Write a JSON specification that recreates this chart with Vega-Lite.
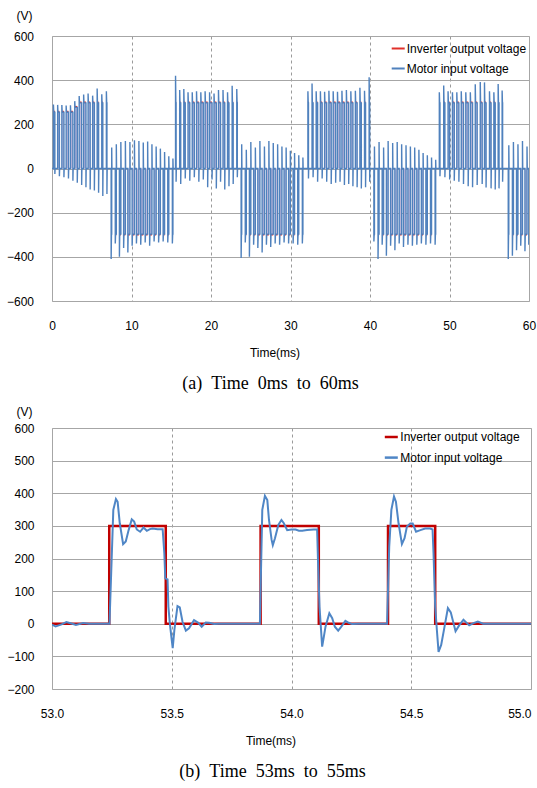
{
"$schema": "https://vega.github.io/schema/vega-lite/v6.json",
"padding": {"left": 5, "top": 8, "right": 1, "bottom": 5},
"spacing": 11,
"background": "white",
"config": {
 "font": "Liberation Sans",
 "view": {"stroke": "#a6a6a6", "strokeWidth": 1},
 "axis": {"labelFont": "Liberation Sans", "labelFontSize": 12, "labelColor": "#000", "titleFont": "Liberation Sans", "titleFontSize": 12, "titleFontWeight": "normal", "titleColor": "#000", "ticks": false, "tickSize": 0, "domain": false, "gridColor": "#a6a6a6", "gridWidth": 1, "labelOverlap": false, "labelFlush": false, "labelBound": false},
 "title": {"font": "Liberation Serif", "fontSize": 18, "fontWeight": "normal", "color": "#000"}
},
"resolve": {"scale": {"x": "independent", "y": "independent", "color": "independent"}, "legend": {"color": "independent"}},
"datasets": {
 "pulses": [
  {"a":0.18,"b":0.36,"v":258},{"a":0.71,"b":0.93,"v":258},{"a":1.24,"b":1.50,"v":258},{"a":1.78,"b":2.07,"v":258},{"a":2.32,"b":2.63,"v":258},{"a":2.86,"b":3.18,"v":280},{"a":3.42,"b":3.73,"v":300},{"a":3.98,"b":4.27,"v":300},{"a":4.54,"b":4.80,"v":300},{"a":5.11,"b":5.33,"v":300},{"a":5.68,"b":5.86,"v":300},{"a":6.26,"b":6.39,"v":300},{"a":6.84,"b":6.91,"v":300},
  {"a":7.44,"b":7.51,"v":-300},{"a":7.96,"b":8.09,"v":-300},{"a":8.48,"b":8.66,"v":-300},{"a":9.01,"b":9.23,"v":-300},{"a":9.54,"b":9.80,"v":-300},{"a":10.08,"b":10.37,"v":-300},{"a":10.62,"b":10.93,"v":-300},{"a":11.16,"b":11.48,"v":-300},{"a":11.72,"b":12.03,"v":-300},{"a":12.28,"b":12.57,"v":-300},{"a":12.84,"b":13.10,"v":-300},{"a":13.41,"b":13.63,"v":-300},{"a":13.98,"b":14.16,"v":-300},{"a":14.56,"b":14.69,"v":-300},{"a":15.14,"b":15.21,"v":-300},
  {"a":15.54,"b":15.61,"v":300},{"a":16.06,"b":16.19,"v":300},{"a":16.58,"b":16.76,"v":300},{"a":17.11,"b":17.33,"v":300},{"a":17.64,"b":17.90,"v":300},{"a":18.18,"b":18.47,"v":300},{"a":18.72,"b":19.03,"v":300},{"a":19.26,"b":19.58,"v":300},{"a":19.82,"b":20.13,"v":300},{"a":20.38,"b":20.67,"v":300},{"a":20.94,"b":21.20,"v":300},{"a":21.51,"b":21.73,"v":300},{"a":22.08,"b":22.26,"v":300},{"a":22.66,"b":22.79,"v":300},{"a":23.24,"b":23.31,"v":300},
  {"a":23.79,"b":23.86,"v":-300},{"a":24.31,"b":24.44,"v":-300},{"a":24.83,"b":25.01,"v":-300},{"a":25.36,"b":25.58,"v":-300},{"a":25.89,"b":26.15,"v":-300},{"a":26.43,"b":26.72,"v":-300},{"a":26.97,"b":27.28,"v":-300},{"a":27.51,"b":27.83,"v":-300},{"a":28.07,"b":28.38,"v":-300},{"a":28.63,"b":28.92,"v":-300},{"a":29.19,"b":29.45,"v":-300},{"a":29.76,"b":29.98,"v":-300},{"a":30.33,"b":30.51,"v":-300},{"a":30.91,"b":31.04,"v":-300},{"a":31.49,"b":31.56,"v":-300},
  {"a":32.19,"b":32.26,"v":300},{"a":32.71,"b":32.84,"v":300},{"a":33.23,"b":33.41,"v":300},{"a":33.76,"b":33.98,"v":300},{"a":34.29,"b":34.55,"v":300},{"a":34.83,"b":35.12,"v":300},{"a":35.37,"b":35.68,"v":300},{"a":35.91,"b":36.23,"v":300},{"a":36.47,"b":36.78,"v":300},{"a":37.03,"b":37.32,"v":300},{"a":37.59,"b":37.85,"v":300},{"a":38.16,"b":38.38,"v":300},{"a":38.73,"b":38.91,"v":300},{"a":39.31,"b":39.44,"v":300},{"a":39.89,"b":39.96,"v":300},
  {"a":40.49,"b":40.56,"v":-300},{"a":41.01,"b":41.14,"v":-300},{"a":41.53,"b":41.71,"v":-300},{"a":42.06,"b":42.28,"v":-300},{"a":42.59,"b":42.85,"v":-300},{"a":43.13,"b":43.42,"v":-300},{"a":43.67,"b":43.98,"v":-300},{"a":44.21,"b":44.53,"v":-300},{"a":44.77,"b":45.08,"v":-300},{"a":45.33,"b":45.62,"v":-300},{"a":45.89,"b":46.15,"v":-300},{"a":46.46,"b":46.68,"v":-300},{"a":47.03,"b":47.21,"v":-300},{"a":47.61,"b":47.74,"v":-300},{"a":48.19,"b":48.26,"v":-300},
  {"a":48.72,"b":48.80,"v":300},{"a":49.27,"b":49.42,"v":300},{"a":49.82,"b":50.02,"v":300},{"a":50.37,"b":50.60,"v":300},{"a":50.92,"b":51.18,"v":300},{"a":51.48,"b":51.76,"v":300},{"a":52.05,"b":52.35,"v":300},{"a":52.62,"b":52.90,"v":300},{"a":53.24,"b":53.48,"v":300},{"a":53.87,"b":54.11,"v":300},{"a":54.40,"b":54.60,"v":300},{"a":55.03,"b":55.23,"v":300},{"a":55.58,"b":55.75,"v":300},{"a":56.12,"b":56.23,"v":300},{"a":56.62,"b":56.68,"v":300},
  {"a":57.39,"b":57.46,"v":-300},{"a":57.91,"b":58.04,"v":-300},{"a":58.43,"b":58.61,"v":-300},{"a":58.96,"b":59.18,"v":-300},{"a":59.49,"b":59.75,"v":-300},{"a":59.97,"b":60,"v":-300}
 ],
 "motorA": [
  {"t":0,"v":0},
  {"t":0.18,"v":0},{"t":0.18,"v":290},{"t":0.22,"v":255},{"t":0.36,"v":255},{"t":0.36,"v":-25},{"t":0.39,"v":0},
  {"t":0.71,"v":0},{"t":0.71,"v":288},{"t":0.75,"v":255},{"t":0.93,"v":255},{"t":0.93,"v":-35},{"t":0.96,"v":0},
  {"t":1.24,"v":0},{"t":1.24,"v":287},{"t":1.28,"v":255},{"t":1.50,"v":255},{"t":1.50,"v":-40},{"t":1.53,"v":0},
  {"t":1.78,"v":0},{"t":1.78,"v":285},{"t":1.82,"v":255},{"t":2.07,"v":255},{"t":2.07,"v":-45},{"t":2.10,"v":0},
  {"t":2.32,"v":0},{"t":2.32,"v":286},{"t":2.36,"v":255},{"t":2.63,"v":255},{"t":2.63,"v":-55},{"t":2.66,"v":0},
  {"t":2.86,"v":0},{"t":2.86,"v":305},{"t":2.90,"v":277},{"t":3.18,"v":277},{"t":3.18,"v":-65},{"t":3.21,"v":0},
  {"t":3.42,"v":0},{"t":3.42,"v":328},{"t":3.46,"v":297},{"t":3.73,"v":297},{"t":3.73,"v":-75},{"t":3.76,"v":0},
  {"t":3.98,"v":0},{"t":3.98,"v":335},{"t":4.02,"v":297},{"t":4.27,"v":297},{"t":4.27,"v":-85},{"t":4.30,"v":0},
  {"t":4.54,"v":0},{"t":4.54,"v":340},{"t":4.58,"v":297},{"t":4.80,"v":297},{"t":4.80,"v":-95},{"t":4.83,"v":0},
  {"t":5.11,"v":0},{"t":5.11,"v":330},{"t":5.15,"v":297},{"t":5.33,"v":297},{"t":5.33,"v":-100},{"t":5.36,"v":0},
  {"t":5.68,"v":0},{"t":5.68,"v":362},{"t":5.72,"v":297},{"t":5.86,"v":297},{"t":5.86,"v":-110},{"t":5.89,"v":0},
  {"t":6.26,"v":0},{"t":6.26,"v":336},{"t":6.30,"v":297},{"t":6.39,"v":297},{"t":6.39,"v":-125},{"t":6.42,"v":0},
  {"t":6.84,"v":0},{"t":6.84,"v":350},{"t":6.88,"v":297},{"t":6.91,"v":297},{"t":6.91,"v":-115},{"t":6.94,"v":0},
  {"t":7.44,"v":0},{"t":7.44,"v":-410},{"t":7.48,"v":-297},{"t":7.51,"v":-297},{"t":7.51,"v":95},{"t":7.54,"v":0},
  {"t":7.96,"v":0},{"t":7.96,"v":-340},{"t":8.00,"v":-297},{"t":8.09,"v":-297},{"t":8.09,"v":110},{"t":8.12,"v":0},
  {"t":8.48,"v":0},{"t":8.48,"v":-400},{"t":8.52,"v":-297},{"t":8.66,"v":-297},{"t":8.66,"v":120},{"t":8.69,"v":0},
  {"t":9.01,"v":0},{"t":9.01,"v":-360},{"t":9.05,"v":-297},{"t":9.23,"v":-297},{"t":9.23,"v":125},{"t":9.26,"v":0},
  {"t":9.54,"v":0},{"t":9.54,"v":-380},{"t":9.58,"v":-297},{"t":9.80,"v":-297},{"t":9.80,"v":120},{"t":9.83,"v":0},
  {"t":10.08,"v":0},{"t":10.08,"v":-350},{"t":10.12,"v":-297},{"t":10.37,"v":-297},{"t":10.37,"v":128},{"t":10.40,"v":0},
  {"t":10.62,"v":0},{"t":10.62,"v":-340},{"t":10.66,"v":-297},{"t":10.93,"v":-297},{"t":10.93,"v":125},{"t":10.96,"v":0},
  {"t":11.16,"v":0},{"t":11.16,"v":-345},{"t":11.20,"v":-297},{"t":11.48,"v":-297},{"t":11.48,"v":118},{"t":11.51,"v":0},
  {"t":11.72,"v":0},{"t":11.72,"v":-335},{"t":11.76,"v":-297},{"t":12.03,"v":-297},{"t":12.03,"v":122},{"t":12.06,"v":0},
  {"t":12.28,"v":0},{"t":12.28,"v":-350},{"t":12.32,"v":-297},{"t":12.57,"v":-297},{"t":12.57,"v":110},{"t":12.60,"v":0},
  {"t":12.84,"v":0},{"t":12.84,"v":-330},{"t":12.88,"v":-297},{"t":13.10,"v":-297},{"t":13.10,"v":100},{"t":13.13,"v":0},
  {"t":13.41,"v":0},{"t":13.41,"v":-335},{"t":13.45,"v":-297},{"t":13.63,"v":-297},{"t":13.63,"v":90},{"t":13.66,"v":0},
  {"t":13.98,"v":0},{"t":13.98,"v":-330},{"t":14.02,"v":-297},{"t":14.16,"v":-297},{"t":14.16,"v":75},{"t":14.19,"v":0},
  {"t":14.56,"v":0},{"t":14.56,"v":-335},{"t":14.60,"v":-297},{"t":14.69,"v":-297},{"t":14.69,"v":55},{"t":14.72,"v":0},
  {"t":15.14,"v":0},{"t":15.14,"v":-340},{"t":15.18,"v":-297},{"t":15.21,"v":-297},{"t":15.21,"v":45},{"t":15.24,"v":0},
  {"t":15.54,"v":0},{"t":15.54,"v":420},{"t":15.58,"v":297},{"t":15.61,"v":297},{"t":15.61,"v":-60},{"t":15.64,"v":0},
  {"t":16.06,"v":0},{"t":16.06,"v":355},{"t":16.10,"v":297},{"t":16.19,"v":297},{"t":16.19,"v":-70},{"t":16.22,"v":0},
  {"t":16.58,"v":0},{"t":16.58,"v":360},{"t":16.62,"v":297},{"t":16.76,"v":297},{"t":16.76,"v":-45},{"t":16.79,"v":0},
  {"t":17.11,"v":0},{"t":17.11,"v":345},{"t":17.15,"v":297},{"t":17.33,"v":297},{"t":17.33,"v":-55},{"t":17.36,"v":0},
  {"t":17.64,"v":0},{"t":17.64,"v":345},{"t":17.68,"v":297},{"t":17.90,"v":297},{"t":17.90,"v":-40},{"t":17.93,"v":0},
  {"t":18.18,"v":0},{"t":18.18,"v":350},{"t":18.22,"v":297},{"t":18.47,"v":297},{"t":18.47,"v":-60},{"t":18.50,"v":0},
  {"t":18.72,"v":0},{"t":18.72,"v":345},{"t":18.76,"v":297},{"t":19.03,"v":297},{"t":19.03,"v":-50},{"t":19.06,"v":0},
  {"t":19.26,"v":0},{"t":19.26,"v":350},{"t":19.30,"v":297},{"t":19.58,"v":297},{"t":19.58,"v":-85},{"t":19.61,"v":0},
  {"t":19.82,"v":0},{"t":19.82,"v":345},{"t":19.86,"v":297},{"t":20.13,"v":297},{"t":20.13,"v":-50},{"t":20.16,"v":0},
  {"t":20.38,"v":0},{"t":20.38,"v":340},{"t":20.42,"v":297},{"t":20.67,"v":297},{"t":20.67,"v":-90},{"t":20.70,"v":0},
  {"t":20.94,"v":0},{"t":20.94,"v":355},{"t":20.98,"v":297},{"t":21.20,"v":297},{"t":21.20,"v":-60},{"t":21.23,"v":0},
  {"t":21.51,"v":0},{"t":21.51,"v":355},{"t":21.55,"v":297},{"t":21.73,"v":297},{"t":21.73,"v":-95},{"t":21.76,"v":0},
  {"t":22.08,"v":0},{"t":22.08,"v":345},{"t":22.12,"v":297},{"t":22.26,"v":297},{"t":22.26,"v":-80},{"t":22.29,"v":0},
  {"t":22.66,"v":0},{"t":22.66,"v":375},{"t":22.70,"v":297},{"t":22.79,"v":297},{"t":22.79,"v":-70},{"t":22.82,"v":0},
  {"t":23.24,"v":0},{"t":23.24,"v":360},{"t":23.28,"v":297},{"t":23.31,"v":297},{"t":23.31,"v":-40},{"t":23.34,"v":0},
  {"t":23.79,"v":0},{"t":23.79,"v":-405},{"t":23.83,"v":-297},{"t":23.86,"v":-297},{"t":23.86,"v":110},{"t":23.89,"v":0},
  {"t":24.31,"v":0},{"t":24.31,"v":-335},{"t":24.35,"v":-297},{"t":24.44,"v":-297},{"t":24.44,"v":85},{"t":24.47,"v":0},
  {"t":24.83,"v":0},{"t":24.83,"v":-400},{"t":24.87,"v":-297},{"t":25.01,"v":-297},{"t":25.01,"v":120},{"t":25.04,"v":0},
  {"t":25.36,"v":0},{"t":25.36,"v":-345},{"t":25.40,"v":-297},{"t":25.58,"v":-297},{"t":25.58,"v":95},{"t":25.61,"v":0},
  {"t":25.89,"v":0},{"t":25.89,"v":-360},{"t":25.93,"v":-297},{"t":26.15,"v":-297},{"t":26.15,"v":125},{"t":26.18,"v":0},
  {"t":26.43,"v":0},{"t":26.43,"v":-380},{"t":26.47,"v":-297},{"t":26.72,"v":-297},{"t":26.72,"v":100},{"t":26.75,"v":0},
  {"t":26.97,"v":0},{"t":26.97,"v":-345},{"t":27.01,"v":-297},{"t":27.28,"v":-297},{"t":27.28,"v":125},{"t":27.31,"v":0},
  {"t":27.51,"v":0},{"t":27.51,"v":-355},{"t":27.55,"v":-297},{"t":27.83,"v":-297},{"t":27.83,"v":115},{"t":27.86,"v":0},
  {"t":28.07,"v":0},{"t":28.07,"v":-340},{"t":28.11,"v":-297},{"t":28.38,"v":-297},{"t":28.38,"v":110},{"t":28.41,"v":0},
  {"t":28.63,"v":0},{"t":28.63,"v":-345},{"t":28.67,"v":-297},{"t":28.92,"v":-297},{"t":28.92,"v":100},{"t":28.95,"v":0},
  {"t":29.19,"v":0},{"t":29.19,"v":-335},{"t":29.23,"v":-297},{"t":29.45,"v":-297},{"t":29.45,"v":95},{"t":29.48,"v":0},
  {"t":29.76,"v":0},{"t":29.76,"v":-340},{"t":29.80,"v":-297},{"t":29.98,"v":-297},{"t":29.98,"v":80},{"t":30.01,"v":0},
  {"t":30.33,"v":0},{"t":30.33,"v":-340},{"t":30.37,"v":-297},{"t":30.51,"v":-297},{"t":30.51,"v":70},{"t":30.54,"v":0},
  {"t":30.91,"v":0},{"t":30.91,"v":-345},{"t":30.95,"v":-297},{"t":31.04,"v":-297},{"t":31.04,"v":60},{"t":31.07,"v":0},
  {"t":31.49,"v":0},{"t":31.49,"v":-340},{"t":31.53,"v":-297},{"t":31.56,"v":-297},{"t":31.56,"v":50},{"t":31.59,"v":0},
  {"t":32.19,"v":0},{"t":32.19,"v":350},{"t":32.23,"v":297},{"t":32.26,"v":297},{"t":32.26,"v":-45},{"t":32.29,"v":0},
  {"t":32.71,"v":0},{"t":32.71,"v":385},{"t":32.75,"v":297},{"t":32.84,"v":297},{"t":32.84,"v":-40},{"t":32.87,"v":0},
  {"t":33.23,"v":0},{"t":33.23,"v":350},{"t":33.27,"v":297},{"t":33.41,"v":297},{"t":33.41,"v":-60},{"t":33.44,"v":0},
  {"t":33.76,"v":0},{"t":33.76,"v":350},{"t":33.80,"v":297},{"t":33.98,"v":297},{"t":33.98,"v":-45},{"t":34.01,"v":0},
  {"t":34.29,"v":0},{"t":34.29,"v":348},{"t":34.33,"v":297},{"t":34.55,"v":297},{"t":34.55,"v":-60},{"t":34.58,"v":0},
  {"t":34.83,"v":0},{"t":34.83,"v":352},{"t":34.87,"v":297},{"t":35.12,"v":297},{"t":35.12,"v":-70},{"t":35.15,"v":0},
  {"t":35.37,"v":0},{"t":35.37,"v":350},{"t":35.41,"v":297},{"t":35.68,"v":297},{"t":35.68,"v":-65},{"t":35.71,"v":0},
  {"t":35.91,"v":0},{"t":35.91,"v":348},{"t":35.95,"v":297},{"t":36.23,"v":297},{"t":36.23,"v":-60},{"t":36.26,"v":0},
  {"t":36.47,"v":0},{"t":36.47,"v":352},{"t":36.51,"v":297},{"t":36.78,"v":297},{"t":36.78,"v":-75},{"t":36.81,"v":0},
  {"t":37.03,"v":0},{"t":37.03,"v":355},{"t":37.07,"v":297},{"t":37.32,"v":297},{"t":37.32,"v":-70},{"t":37.35,"v":0},
  {"t":37.59,"v":0},{"t":37.59,"v":350},{"t":37.63,"v":297},{"t":37.85,"v":297},{"t":37.85,"v":-80},{"t":37.88,"v":0},
  {"t":38.16,"v":0},{"t":38.16,"v":352},{"t":38.20,"v":297},{"t":38.38,"v":297},{"t":38.38,"v":-85},{"t":38.41,"v":0},
  {"t":38.73,"v":0},{"t":38.73,"v":366},{"t":38.77,"v":297},{"t":38.91,"v":297},{"t":38.91,"v":-90},{"t":38.94,"v":0},
  {"t":39.31,"v":0},{"t":39.31,"v":352},{"t":39.35,"v":297},{"t":39.44,"v":297},{"t":39.44,"v":-85},{"t":39.47,"v":0},
  {"t":39.89,"v":0},{"t":39.89,"v":413},{"t":39.93,"v":297},{"t":39.96,"v":297},{"t":39.96,"v":-60},{"t":39.99,"v":0},
  {"t":40.49,"v":0},{"t":40.49,"v":-330},{"t":40.53,"v":-297},{"t":40.56,"v":-297},{"t":40.56,"v":100},{"t":40.59,"v":0},
  {"t":41.01,"v":0},{"t":41.01,"v":-410},{"t":41.05,"v":-297},{"t":41.14,"v":-297},{"t":41.14,"v":120},{"t":41.17,"v":0},
  {"t":41.53,"v":0},{"t":41.53,"v":-345},{"t":41.57,"v":-297},{"t":41.71,"v":-297},{"t":41.71,"v":95},{"t":41.74,"v":0},
  {"t":42.06,"v":0},{"t":42.06,"v":-395},{"t":42.10,"v":-297},{"t":42.28,"v":-297},{"t":42.28,"v":125},{"t":42.31,"v":0},
  {"t":42.59,"v":0},{"t":42.59,"v":-350},{"t":42.63,"v":-297},{"t":42.85,"v":-297},{"t":42.85,"v":115},{"t":42.88,"v":0},
  {"t":43.13,"v":0},{"t":43.13,"v":-370},{"t":43.17,"v":-297},{"t":43.42,"v":-297},{"t":43.42,"v":120},{"t":43.45,"v":0},
  {"t":43.67,"v":0},{"t":43.67,"v":-340},{"t":43.71,"v":-297},{"t":43.98,"v":-297},{"t":43.98,"v":110},{"t":44.01,"v":0},
  {"t":44.21,"v":0},{"t":44.21,"v":-355},{"t":44.25,"v":-297},{"t":44.53,"v":-297},{"t":44.53,"v":105},{"t":44.56,"v":0},
  {"t":44.77,"v":0},{"t":44.77,"v":-345},{"t":44.81,"v":-297},{"t":45.08,"v":-297},{"t":45.08,"v":100},{"t":45.11,"v":0},
  {"t":45.33,"v":0},{"t":45.33,"v":-350},{"t":45.37,"v":-297},{"t":45.62,"v":-297},{"t":45.62,"v":95},{"t":45.65,"v":0},
  {"t":45.89,"v":0},{"t":45.89,"v":-345},{"t":45.93,"v":-297},{"t":46.15,"v":-297},{"t":46.15,"v":85},{"t":46.18,"v":0},
  {"t":46.46,"v":0},{"t":46.46,"v":-340},{"t":46.50,"v":-297},{"t":46.68,"v":-297},{"t":46.68,"v":70},{"t":46.71,"v":0},
  {"t":47.03,"v":0},{"t":47.03,"v":-345},{"t":47.07,"v":-297},{"t":47.21,"v":-297},{"t":47.21,"v":60},{"t":47.24,"v":0},
  {"t":47.61,"v":0},{"t":47.61,"v":-340},{"t":47.65,"v":-297},{"t":47.74,"v":-297},{"t":47.74,"v":50},{"t":47.77,"v":0},
  {"t":48.19,"v":0},{"t":48.19,"v":-345},{"t":48.23,"v":-297},{"t":48.26,"v":-297},{"t":48.26,"v":40},{"t":48.29,"v":0},
  {"t":48.72,"v":0},{"t":48.72,"v":345},{"t":48.76,"v":297},{"t":48.80,"v":297},{"t":48.80,"v":-35},{"t":48.83,"v":0},
  {"t":49.27,"v":0},{"t":49.27,"v":376},{"t":49.31,"v":297},{"t":49.42,"v":297},{"t":49.42,"v":-40},{"t":49.45,"v":0},
  {"t":49.82,"v":0},{"t":49.82,"v":350},{"t":49.86,"v":297},{"t":50.02,"v":297},{"t":50.02,"v":-50},{"t":50.05,"v":0},
  {"t":50.37,"v":0},{"t":50.37,"v":345},{"t":50.41,"v":297},{"t":50.60,"v":297},{"t":50.60,"v":-55},{"t":50.63,"v":0},
  {"t":50.92,"v":0},{"t":50.92,"v":345},{"t":50.96,"v":297},{"t":51.18,"v":297},{"t":51.18,"v":-60},{"t":51.21,"v":0},
  {"t":51.48,"v":0},{"t":51.48,"v":350},{"t":51.52,"v":297},{"t":51.76,"v":297},{"t":51.76,"v":-70},{"t":51.79,"v":0},
  {"t":52.05,"v":0},{"t":52.05,"v":345},{"t":52.09,"v":297},{"t":52.35,"v":297},{"t":52.35,"v":-80},{"t":52.38,"v":0},
  {"t":52.62,"v":0},{"t":52.62,"v":345},{"t":52.66,"v":297},{"t":52.90,"v":297},{"t":52.90,"v":-85},{"t":52.93,"v":0},
  {"t":53.24,"v":0},{"t":53.24,"v":382},{"t":53.28,"v":297},{"t":53.48,"v":297},{"t":53.48,"v":-75},{"t":53.51,"v":0},
  {"t":53.87,"v":0},{"t":53.87,"v":392},{"t":53.91,"v":297},{"t":54.11,"v":297},{"t":54.11,"v":-70},{"t":54.14,"v":0},
  {"t":54.40,"v":0},{"t":54.40,"v":390},{"t":54.44,"v":297},{"t":54.60,"v":297},{"t":54.60,"v":-86},{"t":54.63,"v":0},
  {"t":55.03,"v":0},{"t":55.03,"v":350},{"t":55.07,"v":297},{"t":55.23,"v":297},{"t":55.23,"v":-90},{"t":55.26,"v":0},
  {"t":55.58,"v":0},{"t":55.58,"v":345},{"t":55.62,"v":297},{"t":55.75,"v":297},{"t":55.75,"v":-95},{"t":55.78,"v":0},
  {"t":56.12,"v":0},{"t":56.12,"v":383},{"t":56.16,"v":297},{"t":56.23,"v":297},{"t":56.23,"v":-90},{"t":56.26,"v":0},
  {"t":56.62,"v":0},{"t":56.62,"v":353},{"t":56.66,"v":297},{"t":56.68,"v":297},{"t":56.68,"v":-60},{"t":56.71,"v":0},
  {"t":57.39,"v":0},{"t":57.39,"v":-410},{"t":57.43,"v":-297},{"t":57.46,"v":-297},{"t":57.46,"v":105},{"t":57.49,"v":0},
  {"t":57.91,"v":0},{"t":57.91,"v":-395},{"t":57.95,"v":-297},{"t":58.04,"v":-297},{"t":58.04,"v":120},{"t":58.07,"v":0},
  {"t":58.43,"v":0},{"t":58.43,"v":-370},{"t":58.47,"v":-297},{"t":58.61,"v":-297},{"t":58.61,"v":110},{"t":58.64,"v":0},
  {"t":58.96,"v":0},{"t":58.96,"v":-350},{"t":59.00,"v":-297},{"t":59.18,"v":-297},{"t":59.18,"v":125},{"t":59.21,"v":0},
  {"t":59.49,"v":0},{"t":59.49,"v":-375},{"t":59.53,"v":-297},{"t":59.75,"v":-297},{"t":59.75,"v":100},{"t":59.78,"v":0},
  {"t":59.97,"v":0},{"t":59.97,"v":-345},{"t":60,"v":-297}
 ],
 "invB": [
  {"t":53.0,"v":0},{"t":53.239,"v":0},{"t":53.239,"v":300},{"t":53.475,"v":300},{"t":53.475,"v":0},{"t":53.871,"v":0},{"t":53.871,"v":300},{"t":54.114,"v":300},{"t":54.114,"v":0},{"t":54.403,"v":0},{"t":54.403,"v":300},{"t":54.6,"v":300},{"t":54.6,"v":0},{"t":55.0,"v":0}
 ],
 "motB": [
  {"t":53.0,"v":-3},{"t":53.015,"v":-8},{"t":53.04,"v":-2},{"t":53.06,"v":5},{"t":53.085,"v":0},{"t":53.1,"v":-4},{"t":53.13,"v":2},{"t":53.155,"v":0},{"t":53.24,"v":0},
  {"t":53.256,"v":349},{"t":53.267,"v":382},{"t":53.274,"v":374},{"t":53.283,"v":308},{"t":53.297,"v":244},{"t":53.308,"v":252},{"t":53.32,"v":287},{"t":53.333,"v":320},{"t":53.343,"v":313},{"t":53.354,"v":289},{"t":53.368,"v":282},{"t":53.382,"v":295},{"t":53.396,"v":285},{"t":53.409,"v":290},{"t":53.42,"v":292},{"t":53.441,"v":290},{"t":53.462,"v":290},
  {"t":53.469,"v":216},{"t":53.473,"v":139},{"t":53.4825,"v":136},{"t":53.486,"v":52},{"t":53.492,"v":1},{"t":53.5,"v":-50},{"t":53.504,"v":-75},{"t":53.511,"v":-19},{"t":53.524,"v":54},{"t":53.5335,"v":50},{"t":53.545,"v":6},{"t":53.559,"v":-21},{"t":53.572,"v":-14},{"t":53.593,"v":11},{"t":53.611,"v":3},{"t":53.625,"v":-9},{"t":53.642,"v":4},{"t":53.656,"v":3},{"t":53.677,"v":-1},{"t":53.697,"v":0},{"t":53.868,"v":0},
  {"t":53.878,"v":349},{"t":53.889,"v":392},{"t":53.899,"v":379},{"t":53.906,"v":318},{"t":53.917,"v":257},{"t":53.922,"v":241},{"t":53.931,"v":262},{"t":53.945,"v":303},{"t":53.958,"v":318},{"t":53.968,"v":308},{"t":53.982,"v":287},{"t":54.0,"v":289},{"t":54.017,"v":289},{"t":54.031,"v":285},{"t":54.045,"v":285},{"t":54.065,"v":287},{"t":54.093,"v":289},{"t":54.107,"v":289},
  {"t":54.111,"v":185},{"t":54.117,"v":52},{"t":54.128,"v":-70},{"t":54.135,"v":-40},{"t":54.142,"v":-9},{"t":54.158,"v":32},{"t":54.17,"v":17},{"t":54.181,"v":-9},{"t":54.195,"v":-21},{"t":54.208,"v":-9},{"t":54.225,"v":9},{"t":54.239,"v":3},{"t":54.253,"v":-1},{"t":54.281,"v":0},{"t":54.399,"v":0},
  {"t":54.408,"v":236},{"t":54.417,"v":349},{"t":54.428,"v":390},{"t":54.436,"v":374},{"t":54.447,"v":308},{"t":54.461,"v":244},{"t":54.472,"v":262},{"t":54.482,"v":298},{"t":54.496,"v":307},{"t":54.506,"v":307},{"t":54.52,"v":282},{"t":54.538,"v":287},{"t":54.558,"v":292},{"t":54.579,"v":292},{"t":54.589,"v":289},
  {"t":54.593,"v":216},{"t":54.6,"v":52},{"t":54.607,"v":-19},{"t":54.614,"v":-86},{"t":54.625,"v":-65},{"t":54.639,"v":-9},{"t":54.653,"v":48},{"t":54.665,"v":35},{"t":54.685,"v":-23},{"t":54.7,"v":-5},{"t":54.718,"v":12},{"t":54.742,"v":-5},{"t":54.76,"v":2},{"t":54.778,"v":7},{"t":54.8,"v":0},{"t":55.0,"v":0}
 ]
},
"vconcat": [
 {
  "width": 477, "height": 265,
  "title": {"text": "(a)\u00a0\u00a0Time\u00a0\u00a00ms\u00a0\u00a0to\u00a0\u00a060ms", "orient": "bottom", "anchor": "middle", "dx": -20, "offset": 16},
  "layer": [
   {"data": {"name": "pulses"}, "mark": {"type": "rect", "color": "#c2b9da", "clip": true},
    "encoding": {
     "x": {"field": "a", "type": "quantitative", "scale": {"domain": [0, 60], "nice": false},
           "axis": {"values": [0,10,20,30,40,50,60], "title": "Time(ms)", "titleX": 222.5, "labelPadding": 19.5, "titlePadding": 16, "gridDash": [3,3], "gridColor": "#9a9a9a", "gridOpacity": {"condition": {"test": "datum.value==0||datum.value==60", "value": 0}, "value": 1}}},
     "x2": {"field": "b"},
     "y": {"field": "v", "type": "quantitative", "scale": {"domain": [-600, 600], "nice": false},
           "axis": {"values": [-600,-400,-200,0,200,400,600], "title": "(V)", "titleAngle": 0, "titleX": -28, "titleY": -21, "titleAlign": "center", "titleBaseline": "middle", "labelPadding": 18.5}},
     "y2": {"datum": 0}
    }},
   {"data": {"name": "pulses"}, "mark": {"type": "rule", "strokeWidth": 1.5, "clip": true},
    "encoding": {
     "x": {"field": "a", "type": "quantitative"},
     "x2": {"field": "b"},
     "y": {"field": "v", "type": "quantitative"},
     "color": {"datum": "Inverter output voltage", "scale": {"domain": ["Inverter output voltage", "Motor input voltage"], "range": ["#e0302a", "#4f81bd"]},
       "legend": {"orient": "none", "legendX": 338.7, "legendY": 5, "title": null, "symbolType": "stroke", "symbolSize": 169, "symbolStrokeWidth": 2, "labelOffset": 1, "rowPadding": 6, "padding": 0, "labelFontSize": 12, "labelFont": "Liberation Sans", "labelColor": "#000"}}
    }},
   {"data": {"name": "motorA"}, "mark": {"type": "line", "strokeWidth": 1.4, "clip": true},
    "encoding": {
     "x": {"field": "t", "type": "quantitative"},
     "y": {"field": "v", "type": "quantitative"},
     "color": {"datum": "Motor input voltage"},
     "order": {"value": null}
    }}
  ]
 },
 {
  "width": 479, "height": 261,
  "title": {"text": "(b)\u00a0\u00a0Time\u00a0\u00a053ms\u00a0\u00a0to\u00a0\u00a055ms", "orient": "bottom", "anchor": "middle", "dx": -19, "offset": 16},
  "encoding": {
   "x": {"field": "t", "type": "quantitative", "scale": {"domain": [53, 55], "nice": false},
         "axis": {"values": [53,53.5,54,54.5,55], "format": ".1f", "title": "Time(ms)", "titleX": 218.5, "labelPadding": 19.5, "titlePadding": 16, "labelAlign": {"condition": {"test": "datum.value==55", "value": "right"}, "value": "center"}, "gridDash": [3,3], "gridColor": "#9a9a9a", "gridOpacity": {"condition": {"test": "datum.value==53||datum.value==55", "value": 0}, "value": 1}}},
   "y": {"field": "v", "type": "quantitative", "scale": {"domain": [-200, 600], "nice": false},
         "axis": {"values": [-200,-100,0,100,200,300,400,500,600], "title": "(V)", "titleAngle": 0, "titleX": -28, "titleY": -17, "titleAlign": "center", "titleBaseline": "middle", "labelPadding": 18}}
  },
  "layer": [
   {"data": {"name": "invB"}, "mark": {"type": "line", "strokeWidth": 2.5, "clip": true},
    "encoding": {
     "color": {"datum": "Inverter output voltage", "scale": {"domain": ["Inverter output voltage", "Motor input voltage"], "range": ["#c00000", "#4f86c6"]},
       "legend": {"orient": "none", "legendX": 331.3, "legendY": 1, "title": null, "symbolType": "stroke", "symbolSize": 169, "symbolStrokeWidth": 2.5, "labelOffset": 1, "rowPadding": 6.6, "padding": 0, "labelFontSize": 12, "labelFont": "Liberation Sans", "labelColor": "#000"}},
     "order": {"value": null}
    }},
   {"data": {"name": "motB"}, "mark": {"type": "line", "strokeWidth": 2, "clip": true},
    "encoding": {
     "color": {"datum": "Motor input voltage"},
     "order": {"value": null}
    }}
  ]
 }
]
}
